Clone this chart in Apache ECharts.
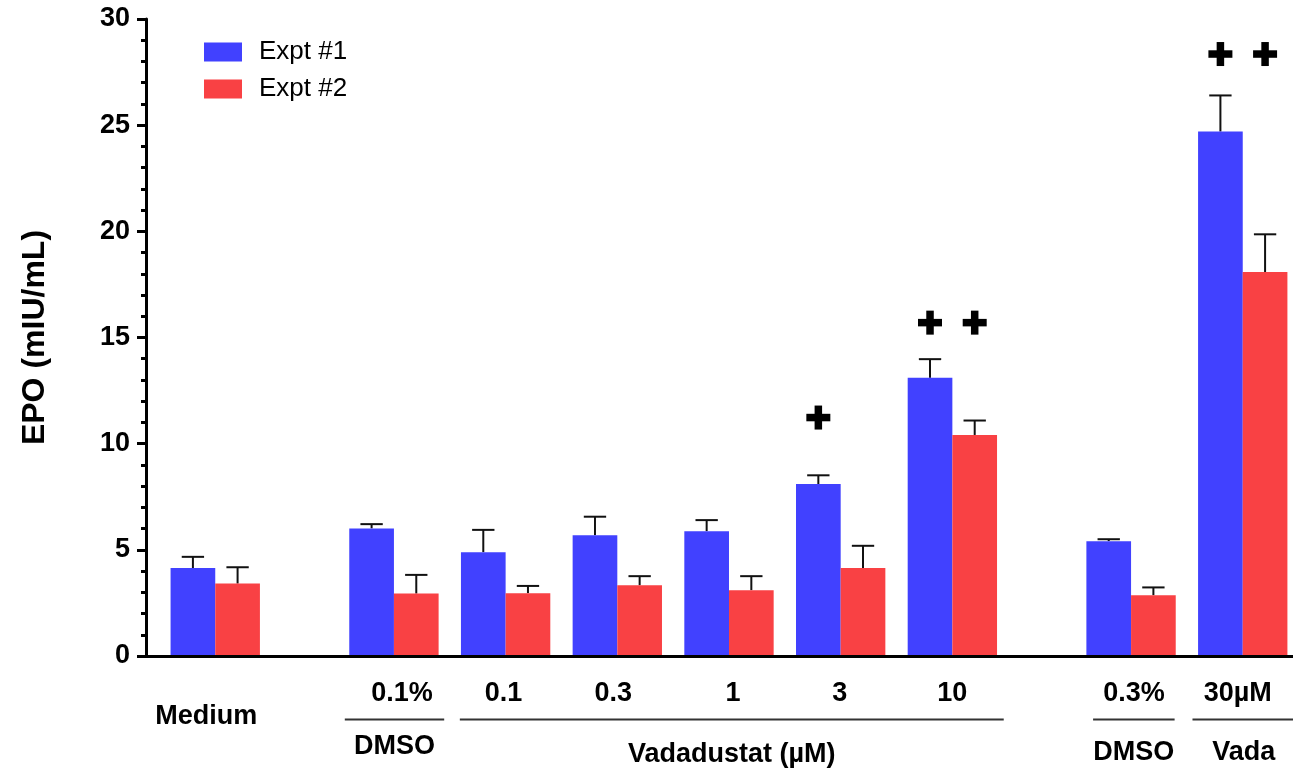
<!DOCTYPE html>
<html>
<head>
<meta charset="utf-8">
<script src="https://cdn.jsdelivr.net/npm/echarts@6/dist/echarts.min.js"></script>
<style>
  html, body { margin: 0; padding: 0; background: #fff; }
  #chart { width: 1293px; height: 775px; }
</style>
</head>
<body>
<div id="chart"></div>
<script>
// data (EPO, mIU/mL)
const categories = ['Medium', '0.1%', '0.1', '0.3', '1', '3', '10', '0.3%', '30µM']
const expt1 = [4.14, 6.01, 4.89, 5.69, 5.88, 8.10, 13.10, 5.41, 24.70]
const expt1Err = [0.53, 0.20, 1.05, 0.87, 0.52, 0.41, 0.88, 0.09, 1.70]
const expt2 = [3.41, 2.94, 2.96, 3.33, 3.10, 4.14, 10.41, 2.86, 18.08]
const expt2Err = [0.77, 0.88, 0.34, 0.43, 0.66, 1.05, 0.68, 0.37, 1.78]
// significance markers (+) and the level they sit at
const sig1 = [0, 0, 0, 0, 0, 1, 1, 0, 1]
const sig2 = [0, 0, 0, 0, 0, 0, 1, 0, 1]
const plusLevel = [0, 0, 0, 0, 0, 11.23, 15.7, 0, 28.35]
const groupNames = ['DMSO', 'Vadadustat (µM)', 'DMSO', 'Vada']
const groupMembers = [[1, 1], [2, 6], [7, 7], [8, 8]]
const yMin = 0
const yMax = 30
const yStep = 5

// layout: slot position of each group on the x axis (1 unit = one group)
const slot = [1, 2.6, 3.6, 4.6, 5.6, 6.6, 7.6, 9.2, 10.2]
const labelDx = [-9, 8, -2, -4, 4, -1, 0, 3, -5]
const groupSpan = [[0.44, 0.45], [0.41, 0.46], [0.34, 0.39], [0.45, 0.47]]
const groupDy = [747, 755, 753, 753]

const BLUE = '#4141FF'
const RED = '#F94144'
const FONT = '"Liberation Sans", Arial, sans-serif'

const chart = echarts.init(document.getElementById('chart'))

// bold plus sign, 24px across with 7.5px strokes
function plusShape(cx, cy) {
  const a = 12, t = 3.75
  return [
    { type: 'rect', shape: { x: cx - a, y: cy - t, width: 2 * a, height: 2 * t }, style: { fill: '#000' } },
    { type: 'rect', shape: { x: cx - t, y: cy - a, width: 2 * t, height: 2 * a }, style: { fill: '#000' } }
  ]
}

function barSeries(name, vals, errs, sig, off, color) {
  return {
    type: 'custom',
    name: name,
    clip: false,
    z: 2,
    itemStyle: { color: color },
    encode: { x: 0, y: 1 },
    data: categories.map((c, i) => [slot[i], vals[i], vals[i] + errs[i], sig[i] ? plusLevel[i] : 0]),
    renderItem(params, api) {
      const x = api.value(0) + off
      const top = api.coord([x, api.value(1)])
      const base = api.coord([x, 0])
      const hi = api.coord([x, api.value(2)])
      const w = api.size([0.4, 0])[0]
      const cap = api.size([0.2, 0])[0]
      let children = [
        {
          type: 'line',
          shape: { x1: top[0], y1: top[1], x2: hi[0], y2: hi[1] },
          style: { stroke: '#111', lineWidth: 2 }
        },
        {
          type: 'line',
          shape: { x1: hi[0] - cap / 2, y1: hi[1], x2: hi[0] + cap / 2, y2: hi[1] },
          style: { stroke: '#111', lineWidth: 2 }
        },
        {
          type: 'rect',
          shape: { x: top[0] - w / 2, y: top[1], width: w, height: base[1] - top[1] },
          style: { fill: color }
        }
      ]
      const p = api.value(3)
      if (p > 0) {
        const pp = api.coord([x, p])
        children = children.concat(plusShape(pp[0], pp[1]))
      }
      return { type: 'group', children: children }
    }
  }
}

const option = {
  animation: false,
  backgroundColor: '#fff',
  color: [BLUE, RED],
  grid: { left: 146, right: 0, top: 19, bottom: 119, outerBoundsMode: 'none' },
  legend: {
    data: ['Expt #1', 'Expt #2'],
    orient: 'vertical',
    left: 199,
    top: 34,
    icon: 'rect',
    itemWidth: 38,
    itemHeight: 19,
    itemGap: 11,
    textStyle: { fontFamily: FONT, fontSize: 26, color: '#000', lineHeight: 26, padding: [0, 0, 0, 12] }
  },
  xAxis: {
    type: 'value',
    min: 0.38,
    max: 10.65,
    z: 10,
    axisLine: { show: true, onZero: false, lineStyle: { color: '#000', width: 3 } },
    axisTick: { show: false },
    axisLabel: { show: false },
    splitLine: { show: false }
  },
  yAxis: {
    type: 'value',
    min: yMin,
    max: yMax,
    interval: yStep,
    z: 10,
    name: 'EPO (mIU/mL)',
    nameLocation: 'middle',
    nameGap: 95,
    nameTextStyle: { fontFamily: FONT, fontSize: 32, fontWeight: 'bold', color: '#000' },
    axisLine: { show: true, onZero: false, lineStyle: { color: '#000', width: 3 } },
    axisTick: { show: true, length: 9, lineStyle: { color: '#000', width: 3 } },
    minorTick: { show: true, splitNumber: 5, length: 5, lineStyle: { color: '#000', width: 3 } },
    axisLabel: { fontFamily: FONT, fontSize: 27, fontWeight: 'bold', color: '#000', margin: 16 },
    splitLine: { show: false }
  },
  series: [
    barSeries('Expt #1', expt1, expt1Err, sig1, -0.2, BLUE),
    barSeries('Expt #2', expt2, expt2Err, sig2, 0.2, RED),
    {
      type: 'custom',
      name: 'labels',
      clip: false,
      silent: true,
      encode: { x: 0, y: 1 },
      data: categories.map((c, i) => [slot[i], 0]),
      renderItem(params, api) {
        const i = params.dataIndex
        const pt = api.coord([api.value(0), 0])
        const inGroup = groupMembers.some(g => i >= g[0] && i <= g[1])
        return {
          type: 'text',
          style: {
            text: categories[i], x: pt[0] + labelDx[i], y: inGroup ? 694 : 717,
            fill: '#000', font: 'bold 27px ' + FONT, align: 'center', verticalAlign: 'middle'
          }
        }
      }
    },
    {
      type: 'custom',
      name: 'groups',
      clip: false,
      silent: true,
      encode: { x: [0, 1], y: 2 },
      data: groupMembers.map((g, k) => [slot[g[0]] - groupSpan[k][0], slot[g[1]] + groupSpan[k][1], 0]),
      renderItem(params, api) {
        const k = params.dataIndex
        const a = api.coord([api.value(0), 0])
        const b = api.coord([api.value(1), 0])
        return {
          type: 'group',
          children: [
            {
              type: 'line',
              shape: { x1: a[0], y1: 719.5, x2: b[0], y2: 719.5 },
              style: { stroke: '#333', lineWidth: 2 }
            },
            {
              type: 'text',
              style: {
                text: groupNames[k], x: (a[0] + b[0]) / 2, y: groupDy[k],
                fill: '#000', font: 'bold 27px ' + FONT, align: 'center', verticalAlign: 'middle'
              }
            }
          ]
        }
      }
    }
  ]
}

chart.setOption(option)
window.addEventListener('resize', () => chart.resize())
</script>
</body>
</html>
